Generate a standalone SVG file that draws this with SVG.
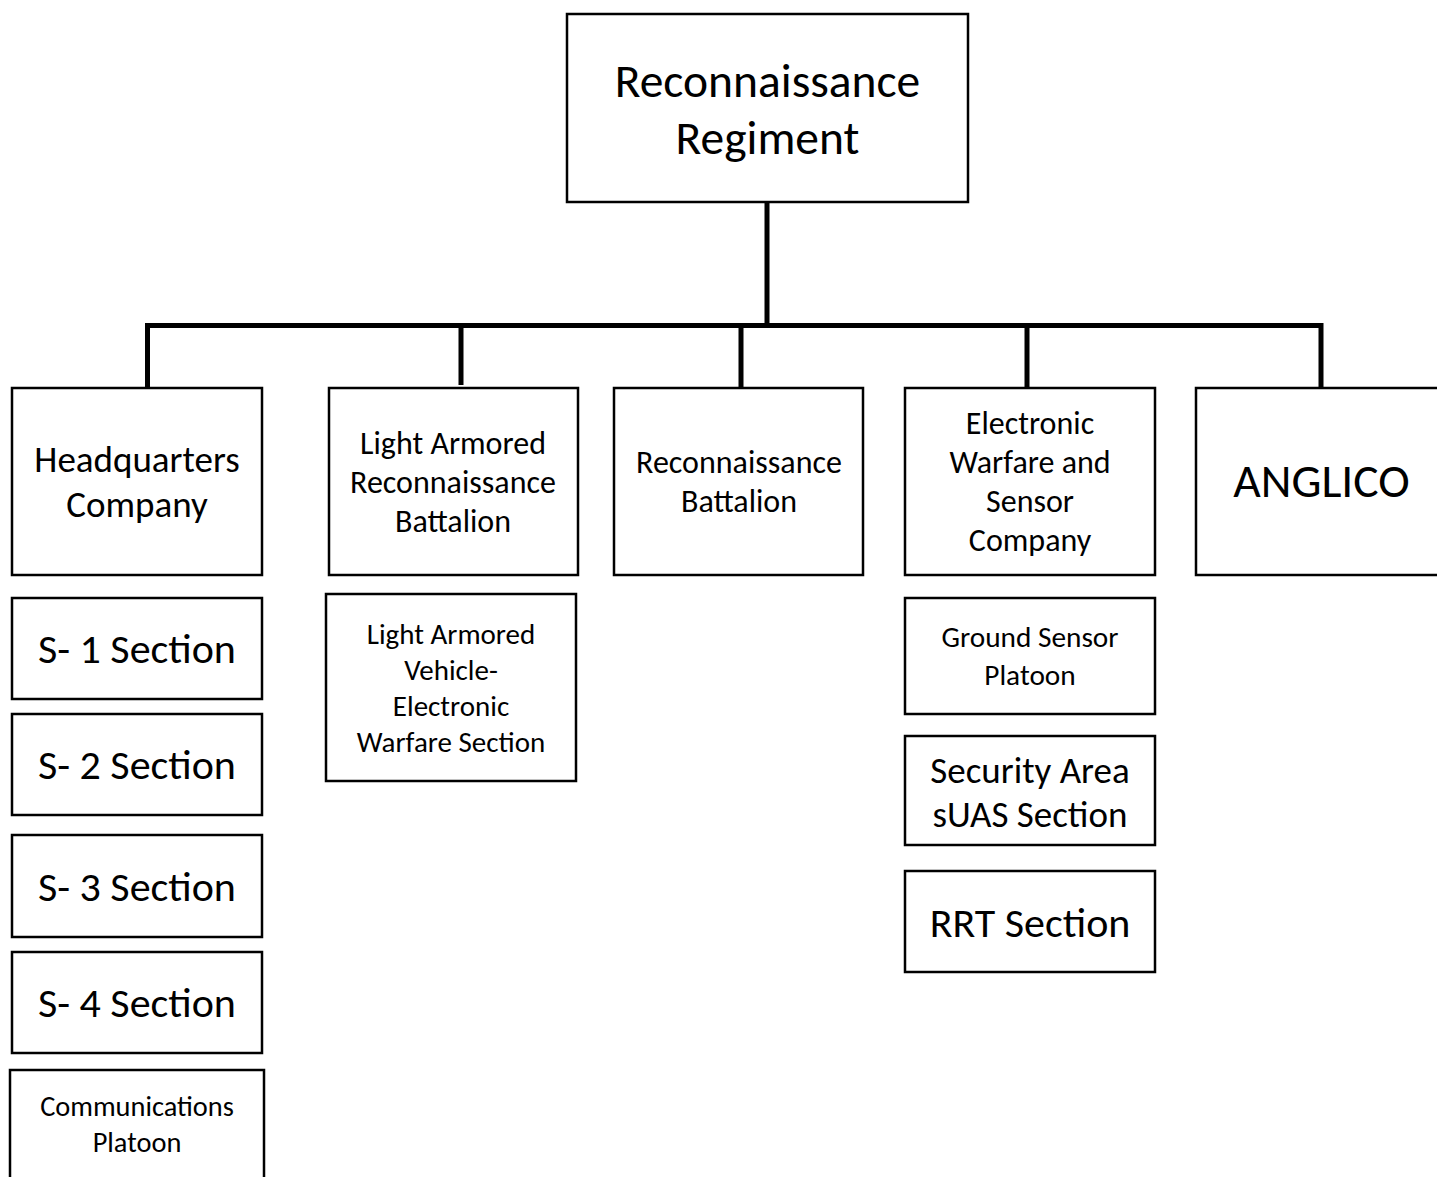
<svg xmlns="http://www.w3.org/2000/svg" width="1437" height="1177" viewBox="0 0 1437 1177">
<style>
rect{fill:#fff;stroke:#000;stroke-width:2.5}
text{font-family:Carlito,Lato,"Liberation Sans",sans-serif;fill:#000;text-anchor:middle}
.c{stroke:#000;stroke-width:5;fill:none}
</style>
<rect x="0" y="0" width="1437" height="1177" style="stroke:none"/>
<g id="connectors">
<path class="c" d="M767 202V325.5M145 325.5H1323.5M147.5 323V388M461 323V385M741 323V388M1027 323V388M1321 323V388"/>
</g>
<g id="regiment"><rect x="567" y="14" width="401" height="188"/><text font-size="47.5" x="767.5" y="97">Reconnaissance</text><text font-size="47.5" x="767.5" y="154">Regiment</text></g>
<g id="hq"><rect x="12" y="388" width="250" height="187"/><text font-size="37" x="137" y="472">Headquarters</text><text font-size="37" x="137" y="517">Company</text></g>
<g id="lar"><rect x="329" y="388" width="249" height="187"/><text font-size="32" x="453" y="454">Light Armored</text><text font-size="32" x="453" y="493">Reconnaissance</text><text font-size="32" x="453" y="532">Battalion</text></g>
<g id="reconbn"><rect x="614" y="388" width="249" height="187"/><text font-size="32" x="739" y="473">Reconnaissance</text><text font-size="32" x="739" y="512">Battalion</text></g>
<g id="ews"><rect x="905" y="388" width="250" height="187"/><text font-size="32" x="1030" y="434">Electronic</text><text font-size="32" x="1030" y="473">Warfare and</text><text font-size="32" x="1030" y="512">Sensor</text><text font-size="32" x="1030" y="551">Company</text></g>
<g id="anglico"><rect x="1196" y="388" width="260" height="187"/><text font-size="47.5" x="1321.5" y="497">ANGLICO</text></g>
<g id="s1"><rect x="12" y="598" width="250" height="101"/><text font-size="42" x="137" y="663">S- 1 Section</text></g>
<g id="s2"><rect x="12" y="714" width="250" height="101"/><text font-size="42" x="137" y="779">S- 2 Section</text></g>
<g id="s3"><rect x="12" y="835" width="250" height="102"/><text font-size="42" x="137" y="901">S- 3 Section</text></g>
<g id="s4"><rect x="12" y="952" width="250" height="101"/><text font-size="42" x="137" y="1017">S- 4 Section</text></g>
<g id="comm"><rect x="10" y="1070" width="254" height="120"/><text font-size="28.4" x="137" y="1116">Communications</text><text font-size="28.4" x="137" y="1152">Platoon</text></g>
<g id="lavew"><rect x="326" y="594" width="250" height="187"/><text font-size="29" x="451" y="644">Light Armored</text><text font-size="29" x="451" y="680">Vehicle-</text><text font-size="29" x="451" y="716">Electronic</text><text font-size="29" x="451" y="752">Warfare Section</text></g>
<g id="gsp"><rect x="905" y="598" width="250" height="116"/><text font-size="29.3" x="1030" y="647">Ground Sensor</text><text font-size="29.3" x="1030" y="685">Platoon</text></g>
<g id="suas"><rect x="905" y="736" width="250" height="109"/><text font-size="37" x="1030" y="783">Security Area</text><text font-size="37" x="1030" y="827">sUAS Section</text></g>
<g id="rrt"><rect x="905" y="871" width="250" height="101"/><text font-size="42" x="1030" y="937">RRT Section</text></g>
</svg>
